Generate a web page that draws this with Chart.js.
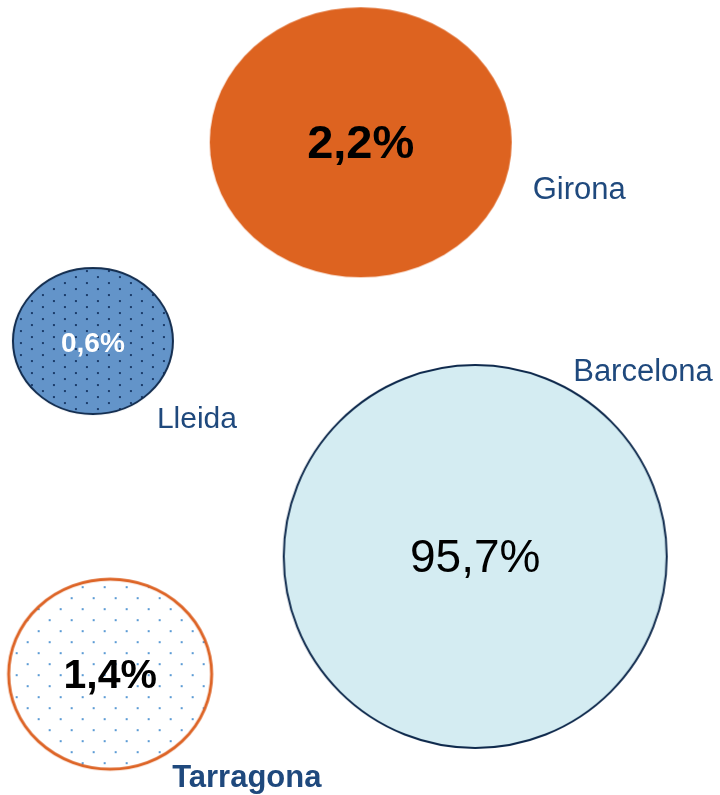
<!DOCTYPE html>
<html>
<head>
<meta charset="utf-8">
<script src="https://cdn.jsdelivr.net/npm/chart.js@4"></script>
<style>
  html, body { margin: 0; padding: 0; background: #fff; }
  #wrap { width: 720px; height: 795px; }
</style>
</head>
<body>
<div id="wrap"><canvas id="bubbleChart" width="720" height="795"></canvas></div>
<script>
// Data
const regions = ['Girona', 'Lleida', 'Barcelona', 'Tarragona'];
const shares = [2.2, 0.6, 95.7, 1.4];
const posX = [50.1, 12.9, 66.0, 15.3];
const posY = [17.9, 42.9, 70.0, 84.8];

// Look of each bubble
const blobW = [302, 160, 383, 203];
const blobH = [270, 146, 383, 190];
const fills = ['#dd6320', '#6394c9', '#d4ecf2', '#ffffff'];
const dots = [null, '#1c3d6b', null, '#5b9bd5'];
const strokes = [null, '#112b4d', '#0f2a4d', '#dd6426'];
const strokeW = [0, 2, 2, 3];
const pctFont = ['bold 47px', 'bold 28px', '46px', 'bold 41px'];
const pctColor = ['#000', '#fff', '#000', '#000'];
const nameFont = ['31px', '30px', '31px', 'bold 31px'];
const nameDx = [172, 64, 98, 62];
const nameDy = [48, 79, -184, 104];
const FONT = '"Liberation Sans", Arial, sans-serif';

function dotPattern(ctx, color, tw, th) {
    const c = document.createElement('canvas');
    c.width = tw; c.height = th;
    const p = c.getContext('2d');
    p.fillStyle = color;
    p.fillRect(0, 0, 2, 2);
    p.fillRect(tw / 2, th / 2, 2, 2);
    return ctx.createPattern(c, 'repeat');
}

function makeBlob(i) {
    const pad = 4;
    const c = document.createElement('canvas');
    c.width = blobW[i] + pad * 2;
    c.height = blobH[i] + pad * 2;
    const ctx = c.getContext('2d');
    ctx.beginPath();
    ctx.ellipse(c.width / 2, c.height / 2, blobW[i] / 2, blobH[i] / 2, 0, 0, Math.PI * 2);
    ctx.fillStyle = fills[i];
    ctx.fill();
    if (dots[i]) {
        ctx.fillStyle = i === 1 ? dotPattern(ctx, dots[i], 22, 12) : dotPattern(ctx, dots[i], 22, 22);
        ctx.fill();
    }
    if (strokes[i]) {
        ctx.lineWidth = strokeW[i];
        ctx.strokeStyle = strokes[i];
        ctx.stroke();
    }
    return c;
}

const blobs = regions.map((r, i) => makeBlob(i));

const labelPlugin = {
    id: 'bubbleLabels',
    afterDatasetsDraw(chart) {
        const ctx = chart.ctx;
        const meta = chart.getDatasetMeta(0);
        meta.data.forEach((pt, i) => {
            ctx.save();
            ctx.textAlign = 'center';
            ctx.textBaseline = 'middle';
            ctx.fillStyle = pctColor[i];
            ctx.font = pctFont[i] + ' ' + FONT;
            ctx.fillText(shares[i].toFixed(1).replace('.', ',') + '%', pt.x, pt.y + 3);
            ctx.textAlign = 'left';
            ctx.fillStyle = '#1f497d';
            ctx.font = nameFont[i] + ' ' + FONT;
            ctx.fillText(regions[i], pt.x + nameDx[i], pt.y + nameDy[i]);
            ctx.restore();
        });
    }
};

const ctx = document.getElementById('bubbleChart').getContext('2d');
new Chart(ctx, {
    type: 'bubble',
    data: {
        labels: regions,
        datasets: [{
            label: 'Share',
            data: regions.map((r, i) => ({ x: posX[i], y: posY[i], r: blobW[i] / 2 })),
            pointStyle: blobs,
            clip: false
        }]
    },
    options: {
        responsive: false,
        animation: false,
        layout: { padding: 0, autoPadding: false },
        plugins: {
            legend: { display: false },
            tooltip: { enabled: false }
        },
        scales: {
            x: { type: 'linear', min: 0, max: 100, display: false },
            y: { type: 'linear', min: 0, max: 100, reverse: true, display: false }
        }
    },
    plugins: [labelPlugin]
});
</script>
</body>
</html>
